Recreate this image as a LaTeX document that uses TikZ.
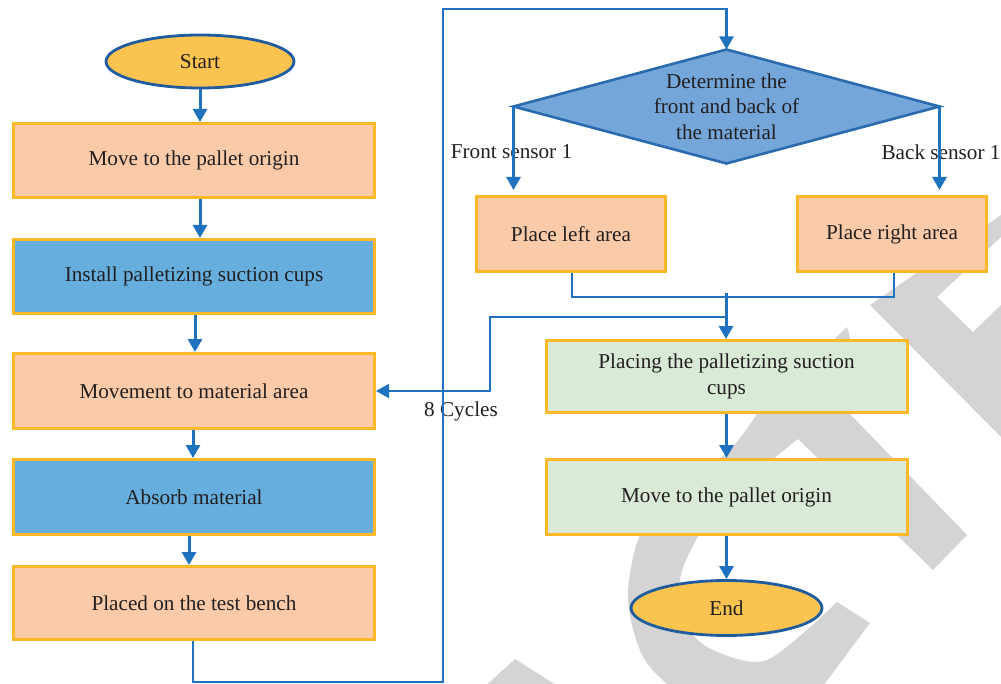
\documentclass[tikz,border=0pt]{standalone}
\usepackage{fontspec}
\setmainfont{Liberation Serif}
\usetikzlibrary{shapes.geometric,arrows.meta}
\definecolor{peach}{HTML}{FBCAA9}
\definecolor{boxorange}{HTML}{FDB827}
\definecolor{boxblue}{HTML}{66AEDD}
\definecolor{diafill}{HTML}{74A6D9}
\definecolor{diaborder}{HTML}{2A6BB0}
\definecolor{mint}{HTML}{D9EAD7}
\definecolor{ovalfill}{HTML}{FBC34F}
\definecolor{ovalborder}{HTML}{1F5C9E}
\definecolor{arrowblue}{HTML}{1F73BE}
\definecolor{wmgray}{HTML}{D4D4D4}
\definecolor{txt}{HTML}{231F20}
\begin{document}
\begin{tikzpicture}[x=0.5pt,y=0.5pt,
  font=\fontsize{10.6}{12.8}\selectfont, text=txt,
  box/.style={rectangle, draw=boxorange, line width=1.5pt, inner sep=0pt, align=center,
    minimum width=180.5pt},
  peachbox/.style={box, fill=peach},
  bluebox/.style={box, fill=boxblue},
  greenbox/.style={box, fill=mint},
  oval/.style={ellipse, draw=ovalborder, fill=ovalfill, line width=1.4pt, inner sep=0pt},
  decision/.style={diamond, draw=diaborder, fill=diafill, line width=1.3pt, inner sep=0pt,
    outer sep=0pt, aspect=3.7, minimum width=213pt, minimum height=57pt, align=center},
  lbl/.style={inner sep=0pt},
  tip/.style={-{Triangle[length=6.5pt,width=7pt]}},
  arr/.style={tip, draw=arrowblue, line width=1.5pt},
  thinarr/.style={tip, draw=arrowblue, line width=1.1pt},
  thinline/.style={draw=arrowblue, line width=1.1pt}
]
\useasboundingbox (0,0) rectangle (1001,-684);
% watermark
\begin{scope}
\clip (0,0) rectangle (1001,-684);
\fill[wmgray] (870,-623) -- plot[smooth] coordinates {(820,-690) (760,-720) (690,-700) (645,-660) (628,-600) (640,-535) (680,-487) (728,-452) (757,-414)}
  -- (847,-327) -- (852,-345) -- (850,-414) -- (967,-535) -- (933,-570) -- (798,-439)
  -- plot[smooth] coordinates {(798,-439) (760,-470) (715,-510) (686,-560) (679,-592) (688,-628) (713,-650) (767,-660) (837,-602)} -- cycle;
\fill[wmgray] (870,-305) -- (1001,-215) -- (1001,-237) -- (937,-297) -- (973,-332) -- (1001,-305) -- (1001,-437) -- cycle;
\fill[wmgray] (515,-659) -- (580,-700) -- (470,-700) -- cycle;
\end{scope}
% nodes
\node[oval, minimum width=94pt, minimum height=26.5pt] (start) at (200,-61.5) {Start};
\node[peachbox, minimum height=37pt] (b1) at (194,-160.5) {Move to the pallet origin};
\node[bluebox, minimum height=37pt] (b2) at (194,-276.5) {Install palletizing suction cups};
\node[peachbox, minimum height=37.5pt] (b3) at (194,-391) {Movement to material area};
\node[bluebox, minimum height=37.5pt] (b4) at (194,-497) {Absorb material};
\node[peachbox, minimum height=36.5pt] (b5) at (194,-603) {Placed on the test bench};
\node[decision] (dia) at (726.5,-106.5) {Determine the\\front and back of\\the material};
\node[peachbox, minimum width=94.5pt, minimum height=37.5pt] (la) at (571,-234) {Place left area};
\node[peachbox, minimum width=94.5pt, minimum height=37.5pt] (ra) at (892,-234) {Place right area};
\node[greenbox, minimum height=36pt] (g1) at (726.5,-376.5) {Placing the palletizing suction\\cups};
\node[greenbox, minimum height=37.5pt] (g2) at (726.5,-497) {Move to the pallet origin};
\node[oval, minimum width=95.5pt, minimum height=27.5pt] (end) at (726.5,-608) {End};
% labels
\node[lbl] (fs) at (511.5,-152) {Front sensor 1};
\node[lbl] (bs) at (941,-152) {Back sensor 1};
\node[lbl] (cyc) at (461,-411) {8 Cycles};
% coordinates
\coordinate (lp1) at (443,-682);
\coordinate (lp2) at (443,-9);
\coordinate (mg) at (726,-297);
\coordinate (mtop) at (726,-293);
\coordinate (cy) at (726,-317);
\coordinate (cy2) at (490,-391);
% connectors
\draw[arr] (start.south) -- (start.south |- b1.north);
\draw[arr] ([xshift=3pt]b1.south) -- ([xshift=3pt]b2.north);
\draw[arr] ([xshift=0.5pt]b2.south) -- ([xshift=0.5pt]b3.north);
\draw[arr] ([xshift=-0.5pt]b3.south) -- ([xshift=-0.5pt]b4.north);
\draw[arr] ([xshift=-2.5pt]b4.south) -- ([xshift=-2.5pt]b5.north);
\draw[thinarr] ([xshift=-0.5pt]b5.south) |- (lp1) -- (lp2) -| (dia.north);
\draw[arr, shorten >=2.5pt] (dia.west) -- (dia.west |- la.north);
\draw[arr, shorten >=2.5pt] (dia.east) -- (dia.east |- ra.north);
\draw[thinline] ([xshift=0.5pt]la.south) |- (mg) -| ([xshift=1pt]ra.south);
\draw[arr] (mtop) -- (mtop |- g1.north);
\draw[thinarr] (cy) -| (cy2) -- (b3.east);
\draw[arr] (g1.south) -- (g2.north);
\draw[arr] (g2.south) -- (end.north);
\end{tikzpicture}
\end{document}
